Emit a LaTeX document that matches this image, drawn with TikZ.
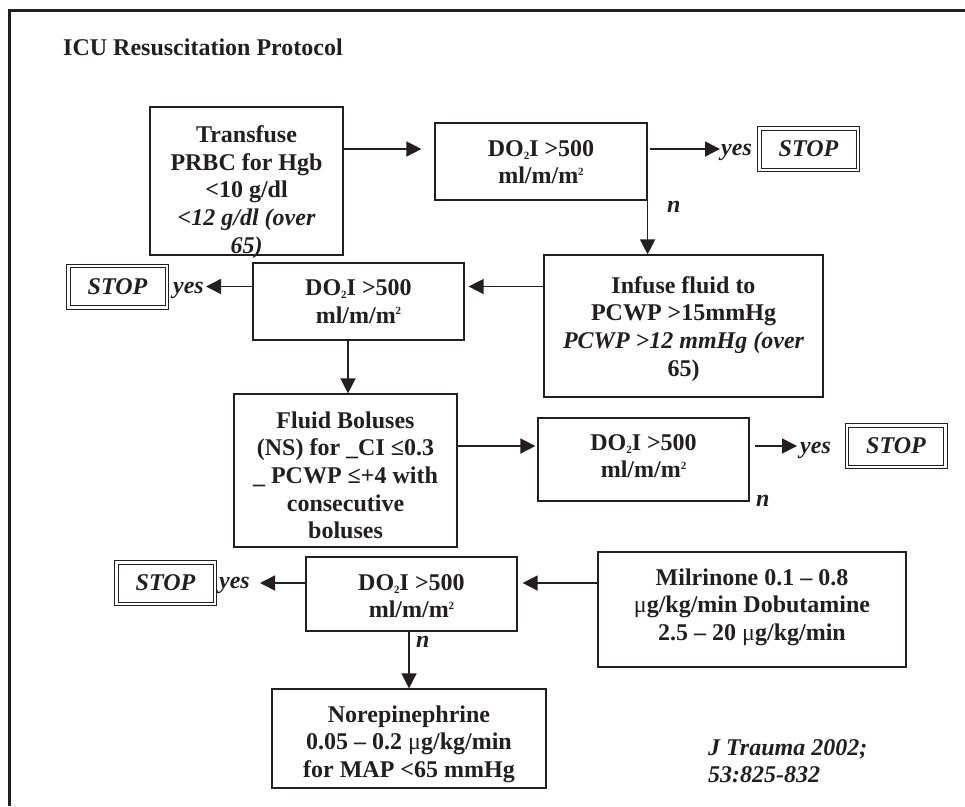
\documentclass[tikz,border=0pt]{standalone}
\usepackage{fontspec}
\setmainfont{Liberation Serif}
\usetikzlibrary{arrows.meta}
\definecolor{ink}{HTML}{231F20}
% small subscript / superscript digit two
\newcommand\dosub{\raisebox{-3pt}{\fontsize{11}{11}\selectfont 2}}
\newcommand\msup{\raisebox{8.5pt}{\fontsize{11}{11}\selectfont 2}}
% strut fixing the height of a first text line
\newcommand\firststrut{\rule{0pt}{20pt}}
\newcommand\mug{{\mdseries μ}}

\begin{document}
\begin{tikzpicture}[x=1pt,y=-1pt,
  every node/.style={text=ink, font=\fontsize{24}{27.6}\selectfont\bfseries},
  box/.style={draw=ink, line width=1.2pt, inner sep=0pt, rectangle},
  txt/.style={align=center, inner sep=0pt, anchor=north},
  stopbox/.style={draw=ink, line width=1pt, inner sep=0pt,
    minimum width=102pt, minimum height=45pt,
    font=\fontsize{24}{27.6}\selectfont\bfseries\itshape},
  stopinner/.style={draw=ink, line width=1pt},
  flow/.style={draw=ink, line width=1.5pt, -{Triangle[length=15pt,width=15pt]}},
  lab/.style={inner sep=0pt, font=\fontsize{24}{27.6}\selectfont\bfseries\itshape}
]
\useasboundingbox (0,0) rectangle (965,806);

% page frame (top and left rules)
\draw[ink, line width=3pt] (965,10.5) -- (9,10.5) -- (9,806);

% title
\node[inner sep=0pt, anchor=base west] (title) at (63,55) {ICU Resuscitation Protocol};

% ---- boxes ----
\node[box, minimum width=193pt, minimum height=148pt] (b1) at (246.5,181) {};
\node[txt] (t1) at (246.5,122.5) {\firststrut Transfuse\\PRBC for Hgb\\<10 g/dl\\{\itshape <12 g/dl (over}\\{\itshape 65)}};

\node[box, minimum width=212pt, minimum height=77pt] (bA) at (541,161.5) {};
\node[txt] (tA) at (541,136) {\firststrut DO\dosub I >500\\ml/m/m\msup};

\node[box, minimum width=279pt, minimum height=142pt] (bI) at (683.5,326) {};
\node[txt] (tI) at (683.5,273) {\firststrut Infuse fluid to\\PCWP >15mmHg\\{\itshape PCWP >12 mmHg (over}\\65)};

\node[box, minimum width=211pt, minimum height=77pt] (bB) at (358.5,301.5) {};
\node[txt] (tB) at (358.5,275.5) {\firststrut DO\dosub I >500\\ml/m/m\msup};

\node[box, minimum width=223pt, minimum height=153pt] (bC) at (345.5,470.5) {};
\node[txt] (tC) at (345.5,408) {\firststrut Fluid Boluses\\(NS) for \_CI ≤0.3\\\_ PCWP ≤+4 with\\consecutive\\boluses};

\node[box, minimum width=211pt, minimum height=83pt] (bD) at (643.5,459.5) {};
\node[txt] (tD) at (643.5,430) {\firststrut DO\dosub I >500\\ml/m/m\msup};

\node[box, minimum width=308pt, minimum height=115pt] (bF) at (752,609.5) {};
\node[txt] (tF) at (752,565) {\firststrut Milrinone 0.1 – 0.8\\\mug g/kg/min Dobutamine\\2.5 – 20 \mug g/kg/min};

\node[box, minimum width=211pt, minimum height=74pt] (bE) at (411.5,594) {};
\node[txt] (tE) at (411.5,570) {\firststrut DO\dosub I >500\\ml/m/m\msup};

\node[box, minimum width=274pt, minimum height=99pt] (bG) at (409,738.5) {};
\node[txt] (tG) at (409,702) {\firststrut Norepinephrine\\0.05 – 0.2 \mug g/kg/min\\for MAP <65 mmHg};

% ---- stop boxes, each with an inner frame ----
\foreach \name/\pos in {sA/{(808.5,149)}, sB/{(117.5,286.5)}, sD/{(896,446)}, sE/{(165.5,583)}} {
  \node[stopbox] (\name) at \pos {STOP};
  \draw[stopinner] ([xshift=4pt,yshift=-4pt]\name.north west) rectangle ([xshift=-4pt,yshift=4pt]\name.south east);
}

% ---- yes / n labels ----
\node[lab, anchor=base west] (yA) at (721,155) {yes};
\node[lab, anchor=base east] (yB) at (204,293) {yes};
\node[lab, anchor=base west] (yD) at (800,453) {yes};
\node[lab, anchor=base east] (yE) at (250,588) {yes};
\node[lab, anchor=base west] (nA) at (667,212) {n};
\node[lab, anchor=base west] (nD) at (756,506) {n};
\node[lab, anchor=base west] (nE) at (416,647) {n};

% citation
\node[lab, align=left, anchor=north west] (cite) at (708,735) {\firststrut J Trauma 2002;\\53:825-832};

% ---- connectors ----
\draw[flow, shorten >=13pt] (b1.east |- sA) -- (bA.west |- sA);
\draw[flow, shorten <=2pt, shorten >=1pt] (bA.east |- sA) -- (yA.west |- sA);
\draw[flow] ([yshift=23pt]bA.south east) -- (bA.south east |- bI.north);
\draw[flow, shorten >=4pt] (bI.west |- sB) -- (bB.east |- sB);
\draw[flow, shorten >=2pt] (bB.west |- sB) -- (yB.east |- sB);
\draw[flow] ([xshift=2.5pt]bC.north |- bB.south) -- ([xshift=2.5pt]bC.north);
\draw[flow, shorten >=2pt] (bC.east |- sD) -- (bD.west |- sD);
\draw[flow, shorten <=5pt, shorten >=3pt] (bD.east |- sD) -- (yD.west |- sD);
\draw[flow, shorten >=5pt] (bF.west |- sE) -- (bE.east |- sE);
\draw[flow, shorten >=10pt] (bE.west |- sE) -- (yE.east |- sE);
\draw[flow] (bG.north |- bE.south) -- (bG.north);
\end{tikzpicture}
\end{document}
